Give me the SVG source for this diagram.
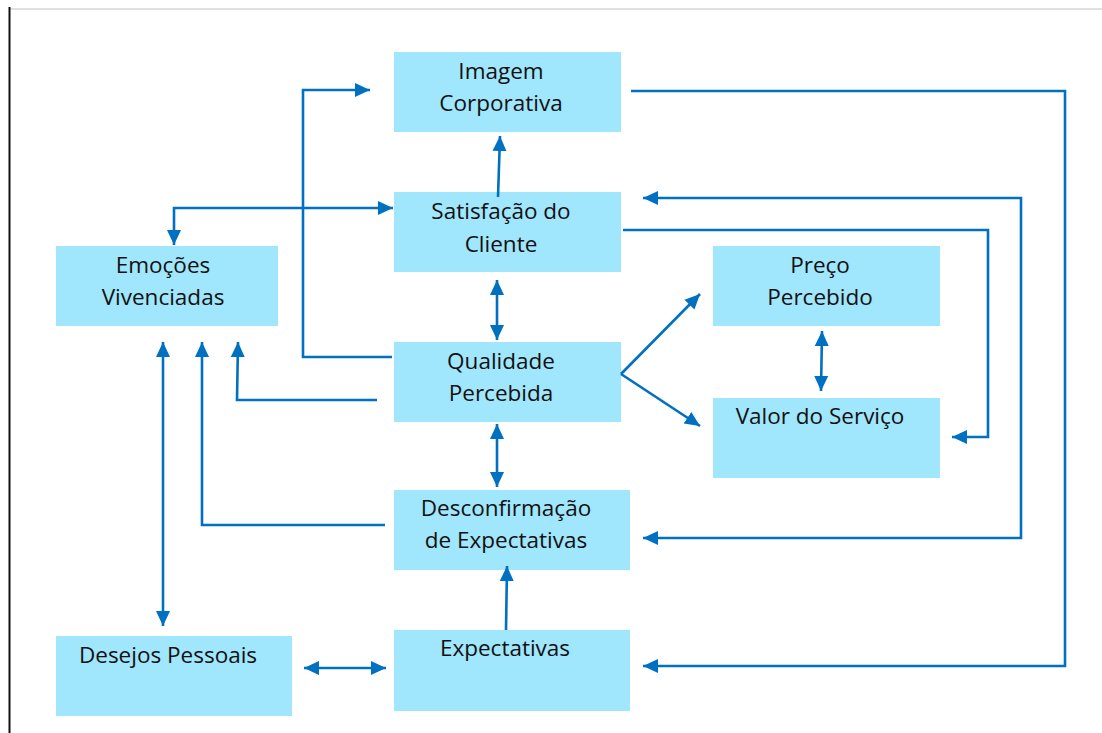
<svg xmlns="http://www.w3.org/2000/svg" width="1102" height="733" viewBox="0 0 1102 733">
  <style>
    .box { fill: #A0E6FC; }
    .lbl { font-family: "Open Sans", "Noto Sans", sans-serif; font-size: 22.5px; fill: #111; text-anchor: middle; }
    .con { fill: none; stroke: #0070C0; stroke-width: 2.6; }
  </style>
  <defs>
    <marker id="ah" markerUnits="userSpaceOnUse" markerWidth="16" markerHeight="16" viewBox="0 0 16 16" refX="15" refY="8" orient="auto-start-reverse">
      <path d="M0,1 L15,8 L0,15 Z" fill="#0070C0"/>
    </marker>
  </defs>

  <!-- frame -->
  <line x1="10" y1="9" x2="1102" y2="9" stroke="#c0c0c0" stroke-width="1"/>
  <line x1="9.5" y1="7" x2="9.5" y2="733" stroke="#111" stroke-width="2"/>

  <g id="imagem">
    <rect class="box" x="394" y="52" width="227" height="80"/>
    <text class="lbl" x="501" y="79">Imagem</text>
    <text class="lbl" x="501" y="111">Corporativa</text>
  </g>
  <g id="satisfacao">
    <rect class="box" x="394" y="192" width="227" height="80"/>
    <text class="lbl" x="501" y="219">Satisfação do</text>
    <text class="lbl" x="501" y="252">Cliente</text>
  </g>
  <g id="emocoes">
    <rect class="box" x="56" y="246" width="222" height="80"/>
    <text class="lbl" x="163" y="273">Emoções</text>
    <text class="lbl" x="163" y="305">Vivenciadas</text>
  </g>
  <g id="preco">
    <rect class="box" x="713" y="246" width="227" height="80"/>
    <text class="lbl" x="820" y="273">Preço</text>
    <text class="lbl" x="820" y="305">Percebido</text>
  </g>
  <g id="qualidade">
    <rect class="box" x="394" y="342" width="227" height="80"/>
    <text class="lbl" x="501" y="369">Qualidade</text>
    <text class="lbl" x="501" y="401">Percebida</text>
  </g>
  <g id="valor">
    <rect class="box" x="713" y="398" width="227" height="80"/>
    <text class="lbl" x="820" y="424">Valor do Serviço</text>
  </g>
  <g id="desconfirmacao">
    <rect class="box" x="394" y="490" width="236" height="80"/>
    <text class="lbl" x="506" y="516">Desconfirmação</text>
    <text class="lbl" x="506" y="548">de Expectativas</text>
  </g>
  <g id="desejos">
    <rect class="box" x="56" y="636" width="236" height="80"/>
    <text class="lbl" x="168" y="663">Desejos Pessoais</text>
  </g>
  <g id="expectativas">
    <rect class="box" x="394" y="630" width="236" height="81"/>
    <text class="lbl" x="505" y="656">Expectativas</text>
  </g>

  <g id="connectors">
    <!-- Qualidade -> Imagem -->
    <path class="con" d="M392,357 H303 V90 H370" marker-end="url(#ah)"/>
    <!-- Emoções <-> Satisfação -->
    <path class="con" d="M174,245 V208 H393" marker-start="url(#ah)" marker-end="url(#ah)"/>
    <!-- Qualidade -> Emoções -->
    <path class="con" d="M377,400 H237 L238,342" marker-end="url(#ah)"/>
    <!-- Desconfirmação -> Emoções -->
    <path class="con" d="M385,525 H202 V342" marker-end="url(#ah)"/>
    <!-- Emoções <-> Desejos -->
    <path class="con" d="M163,342 V626" marker-start="url(#ah)" marker-end="url(#ah)"/>
    <!-- Satisfação -> Imagem -->
    <path class="con" d="M498,197 L500,136" marker-end="url(#ah)"/>
    <!-- Satisfação <-> Qualidade -->
    <path class="con" d="M497,280 V340" marker-start="url(#ah)" marker-end="url(#ah)"/>
    <!-- Qualidade <-> Desconfirmação -->
    <path class="con" d="M497,424 V487" marker-start="url(#ah)" marker-end="url(#ah)"/>
    <!-- Expectativas -> Desconfirmação -->
    <path class="con" d="M506,630 L507,566" marker-end="url(#ah)"/>
    <!-- Desejos <-> Expectativas -->
    <path class="con" d="M304,668 H386" marker-start="url(#ah)" marker-end="url(#ah)"/>
    <!-- Imagem -> Expectativas -->
    <path class="con" d="M631,91 H1065 V666 H643" marker-end="url(#ah)"/>
    <!-- Satisfação <-> Desconfirmação -->
    <path class="con" d="M643,198 H1021 V538 H643" marker-start="url(#ah)" marker-end="url(#ah)"/>
    <!-- Satisfação -> Valor -->
    <path class="con" d="M623,230 H988 V437 H952" marker-end="url(#ah)"/>
    <!-- Qualidade -> Preço / Valor -->
    <path class="con" d="M621,374 L700,294" marker-end="url(#ah)"/>
    <path class="con" d="M621,374 L700,426" marker-end="url(#ah)"/>
    <!-- Preço <-> Valor -->
    <path class="con" d="M822,331 L821,391" marker-start="url(#ah)" marker-end="url(#ah)"/>
  </g>
</svg>
